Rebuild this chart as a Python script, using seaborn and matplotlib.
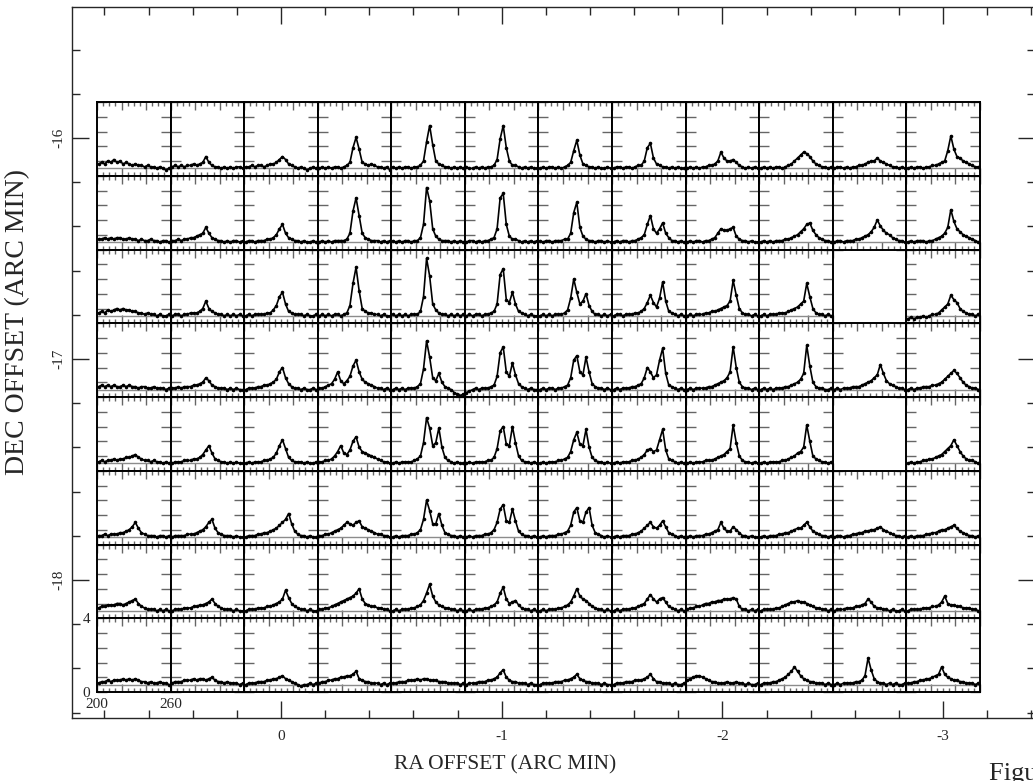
import numpy as np
import seaborn as sns
import matplotlib
matplotlib.use("Agg")
import matplotlib.pyplot as plt
from matplotlib.ticker import MultipleLocator, FixedLocator

# channel velocities (km/s) shared by every spectrum
vel = [201.25, 203.75, 206.25, 208.75, 211.25, 213.75, 216.25, 218.75,
       221.25, 223.75, 226.25, 228.75, 231.25, 233.75, 236.25, 238.75,
       241.25, 243.75, 246.25, 248.75, 251.25, 253.75, 256.25, 258.75]

# spectra in tenths of a unit above the baseline, west to east along a row
# None = no spectrum at that position
row0 = [
    "3 4 3 5 4 6 4 5 3 4 3 2 3 2 2 1 2 1 1 0 1 0 -1 0",
    "1 2 1 2 1 2 2 3 2 3 4 8 4 2 1 1 0 1 0 1 0 1 1 0",
    "1 1 2 1 2 2 1 2 3 3 4 6 8 6 3 2 1 0 1 0 -1 0 1 0",
    "0 1 0 1 0 1 1 0 1 2 4 14 21 13 4 3 2 3 2 1 1 0 1 -1",
    "1 0 1 0 1 1 0 1 1 2 5 18 29 16 5 3 2 1 1 0 1 0 1 0",
    "1 0 0 1 0 1 0 1 1 2 6 20 29 14 5 2 2 1 0 1 0 1 0 0",
    "0 1 0 1 1 0 1 0 1 2 4 12 19 9 3 2 1 1 0 1 0 0 1 0",
    "0 1 1 0 1 1 0 1 2 2 5 14 17 7 3 2 1 1 0 1 0 1 0 0",
    "0 1 0 1 0 1 1 2 2 3 5 11 7 5 5 6 4 2 1 0 1 0 1 0",
    "0 1 0 1 0 1 1 0 1 2 3 5 7 9 11 10 8 5 3 2 1 1 0 1",
    "0 1 1 0 1 0 1 1 2 2 3 4 5 5 7 5 4 3 2 1 1 0 1 0",
    "0 1 0 1 1 0 1 1 2 2 3 4 5 12 22 13 8 7 5 4 3 2 1 1",
]
row1 = [
    "2 2 3 2 3 2 3 3 2 2 3 2 2 1 2 1 1 2 1 1 0 1 1 0",
    "1 1 2 1 2 2 3 3 4 5 6 10 6 3 2 1 1 0 1 0 1 1 0 1",
    "0 1 1 0 1 1 1 2 2 3 5 9 12 6 3 2 1 1 0 1 0 0 1 0",
    "0 1 0 1 0 1 1 1 1 2 6 21 30 18 6 3 2 1 1 1 0 1 0 1",
    "1 0 1 0 1 1 0 1 1 3 12 37 28 9 4 2 1 1 1 0 1 0 1 0",
    "0 1 1 0 1 0 1 1 2 3 9 30 33 12 4 2 2 1 0 1 0 1 0 1",
    "1 0 1 1 0 1 1 1 2 2 6 20 27 10 4 2 1 1 0 1 1 0 1 0",
    "0 1 0 1 1 0 1 1 2 3 5 12 18 9 6 9 13 6 3 1 1 0 1 0",
    "0 1 0 1 1 0 1 1 2 3 6 9 8 8 9 10 4 2 1 1 0 1 0 0",
    "0 1 0 1 0 1 1 1 2 2 3 4 5 7 9 12 13 8 5 3 2 1 1 0",
    "0 1 1 0 1 1 1 2 2 3 4 5 7 10 15 11 8 6 5 3 2 1 1 0",
    "0 1 0 1 1 1 0 1 1 2 3 4 6 10 22 14 9 7 5 4 3 2 1 0",
]
row2 = [
    "2 3 2 4 3 4 5 4 5 4 4 3 3 2 2 1 2 1 1 0 1 0 0 1",
    "0 1 1 0 1 1 2 2 2 3 5 10 5 3 2 1 1 0 1 0 1 0 1 0",
    "0 1 0 1 1 1 1 2 2 4 7 13 16 8 3 2 1 1 1 0 1 0 0 1",
    "0 1 0 1 0 1 1 0 1 2 7 22 33 17 5 3 2 2 1 1 0 1 0 0",
    "1 0 1 0 1 0 1 1 1 3 13 39 27 8 4 2 1 1 0 1 0 1 0 1",
    "0 1 0 1 1 0 1 1 2 3 8 28 32 11 9 16 8 3 2 1 0 1 0 0",
    "0 1 0 1 0 1 1 1 2 4 12 25 16 8 10 15 7 3 1 1 0 1 0 1",
    "0 1 1 0 1 1 1 2 2 3 5 9 14 9 6 12 23 10 3 2 1 0 1 0",
    "0 1 0 1 1 1 2 2 3 3 4 5 6 7 10 24 14 5 2 1 1 0 1 0",
    "0 1 0 1 1 1 2 2 2 3 4 5 6 8 10 22 13 5 2 1 1 0 1 0",
    None,
    "-2 -1 -2 -1 -1 0 -1 0 1 1 2 4 6 8 14 11 9 5 3 2 1 1 0 1",
]
row3 = [
    "2 3 2 3 2 3 2 2 3 2 3 2 2 1 2 2 1 1 2 1 1 1 0 1",
    "1 1 2 1 2 2 2 3 3 4 5 8 6 3 2 1 1 1 0 1 0 1 0 0",
    "0 1 1 1 2 2 3 3 4 5 7 12 15 8 4 2 1 1 0 1 0 0 1 0",
    "1 1 2 3 4 7 12 6 4 6 9 16 20 12 7 5 4 3 2 1 1 0 1 0",
    "0 1 0 1 0 1 1 1 2 4 14 33 22 8 6 11 5 2 1 0 -2 -3 -4 -3",
    "-2 -1 0 1 0 1 1 1 2 3 9 25 29 12 9 18 10 4 2 1 0 1 0 0",
    "0 1 0 1 1 0 1 1 2 3 8 20 23 12 10 22 12 4 2 1 1 0 1 0",
    "0 1 0 1 1 1 2 2 3 4 8 15 12 8 10 20 28 11 3 2 1 0 1 0",
    "0 1 0 1 1 1 1 2 2 3 4 5 6 8 12 29 15 5 2 1 1 0 1 0",
    "0 1 0 1 0 1 1 1 2 2 3 4 5 7 11 30 16 5 2 1 1 0 0 1",
    "0 1 0 1 1 1 2 2 2 3 4 5 6 8 10 17 11 6 4 3 2 1 1 0",
    "0 1 0 1 1 2 2 2 3 3 4 5 7 9 11 13 11 8 5 3 2 1 1 0",
]
row4 = [
    "1 2 1 2 2 3 2 3 3 4 4 5 6 4 3 2 2 1 2 1 1 0 1 0",
    "0 1 1 1 2 2 2 3 3 4 6 9 12 7 3 2 1 1 0 1 0 1 0 0",
    "0 1 0 1 1 1 2 2 3 4 7 12 16 10 4 2 1 1 1 0 1 0 0 1",
    "1 1 2 2 3 5 8 12 7 6 9 15 18 11 8 7 6 5 4 3 2 1 1 0",
    "0 1 0 1 1 1 1 2 3 5 14 31 24 12 14 24 11 4 2 1 0 1 0 0",
    "0 1 0 1 1 1 1 2 2 4 10 22 25 13 12 25 14 5 2 1 1 0 1 0",
    "0 1 0 1 1 1 2 2 3 4 8 16 21 13 12 23 11 4 2 1 1 0 1 0",
    "0 1 0 1 1 1 2 2 3 4 6 9 10 8 9 16 23 9 3 2 1 0 1 0",
    "0 1 0 1 1 1 2 2 2 3 4 5 6 8 10 26 14 5 2 1 1 0 1 0",
    "0 1 0 1 1 1 1 2 2 3 4 5 7 8 11 26 15 5 3 2 1 1 0 1",
    None,
    "0 1 0 1 1 2 2 3 3 4 5 6 8 10 12 16 12 8 5 3 2 2 1 0",
]
row5 = [
    "1 1 2 1 2 2 2 3 3 4 5 7 10 6 3 2 1 1 1 0 1 1 0 1",
    "0 1 1 1 1 2 2 2 3 4 5 7 10 12 6 3 2 1 1 1 0 1 0 0",
    "0 1 1 1 2 2 3 3 4 5 6 8 10 12 16 9 4 2 1 1 0 1 0 0",
    "1 1 2 2 3 4 5 6 8 10 9 8 10 11 7 6 5 4 3 2 2 1 1 0",
    "0 1 0 1 1 1 2 2 3 5 12 25 18 9 9 16 8 3 2 1 1 0 1 0",
    "0 1 0 1 1 1 2 2 3 5 10 19 22 11 10 19 11 4 2 1 1 0 1 0",
    "0 1 0 1 1 1 2 2 3 4 8 17 20 11 10 17 20 8 3 2 1 0 1 0",
    "0 1 0 1 1 1 2 2 3 4 6 8 10 7 6 8 11 7 3 2 1 0 1 0",
    "0 1 0 1 1 1 2 2 3 4 5 10 6 4 4 7 5 3 1 1 0 1 0 0",
    "0 1 0 1 1 1 2 2 3 3 4 5 6 6 8 10 7 4 3 2 1 1 0 1",
    "0 1 1 0 1 1 2 2 3 3 4 4 5 5 6 7 5 4 3 2 1 1 0 1",
    "0 1 0 1 1 1 2 2 3 3 4 5 5 6 7 8 6 4 3 2 1 1 0 1",
]
row6 = [
    "2 3 3 4 4 4 5 5 4 5 6 7 8 5 3 2 1 1 1 0 1 0 1 0",
    "0 1 1 1 2 2 2 3 3 4 4 5 6 8 5 3 2 1 1 1 0 1 0 0",
    "0 1 1 1 2 2 2 3 3 4 5 6 8 14 9 5 3 2 1 1 0 1 0 0",
    "1 1 2 2 3 4 5 6 7 8 9 10 12 15 8 5 4 3 3 2 2 1 1 0",
    "0 1 0 1 1 1 2 2 3 4 7 12 18 10 6 4 3 2 2 1 1 0 1 0",
    "0 1 0 1 1 1 2 2 3 4 6 12 16 8 5 6 7 4 2 1 1 0 1 0",
    "0 1 0 1 1 1 2 2 3 4 6 10 15 10 8 7 5 3 2 1 1 0 1 0",
    "0 1 0 1 1 1 2 2 3 4 5 8 11 8 6 8 9 6 3 2 1 0 1 0",
    "1 2 2 3 3 4 5 5 6 6 7 7 8 8 8 9 8 3 1 1 0 1 0 1",
    "0 1 1 1 1 2 2 3 4 5 6 6 7 6 6 5 4 3 2 2 1 1 0 1",
    "0 1 1 1 2 2 2 3 3 4 5 8 6 3 2 2 1 1 0 1 0 0 1 0",
    "0 1 1 1 1 2 2 2 3 3 4 6 10 5 4 4 3 3 2 2 2 1 1 0",
]
row7 = [
    "1 2 2 3 2 3 3 3 4 3 4 3 4 3 2 2 1 2 1 1 2 1 1 0",
    "1 2 2 2 3 3 3 4 3 4 4 3 4 5 3 2 2 1 2 1 1 1 0 1",
    "0 1 1 1 2 2 2 3 3 4 4 5 6 4 3 2 1 0 -1 0 0 1 0 1",
    "1 2 2 3 3 4 4 5 5 6 6 7 9 4 3 2 2 1 1 1 0 1 0 1",
    "1 1 2 2 2 3 3 3 4 3 4 4 3 3 3 2 2 2 1 1 1 1 0 1",
    "0 1 1 1 2 2 2 3 3 4 5 8 10 5 3 2 2 1 1 1 0 1 0 0",
    "0 1 1 1 1 2 2 2 3 3 4 5 7 4 3 2 2 1 1 1 0 1 0 0",
    "0 1 1 1 2 2 2 3 3 3 4 5 7 4 2 2 1 1 1 0 1 0 0 1",
    "3 4 5 6 6 5 4 3 2 2 1 1 1 2 1 1 2 1 1 0 1 0 0 1",
    "0 1 1 1 2 2 3 4 5 7 9 12 9 6 4 3 2 2 1 1 1 0 1 0",
    "0 1 0 1 1 1 1 2 2 3 6 18 10 4 2 1 1 0 1 0 1 0 0 1",
    "1 1 2 2 3 3 4 4 5 6 7 12 7 5 4 3 3 2 2 1 1 1 0 1",
]
rows = [row0, row1, row2, row3, row4, row5, row6, row7]

ra_ticks = [0, -1, -2, -3]
dec_ticks = [-16, -17, -18]

W, H = 1033, 781


def parse(s):
    return np.array([float(t) for t in s.split()]) / 10.0


def style_panel(ax, label=False):
    ax.set_xlim(200, 260)
    ax.set_ylim(-0.5, 4.5)
    ax.axhline(0, color="0.55", lw=1.0, zorder=1)
    ax.xaxis.set_major_locator(FixedLocator([200, 220, 240, 260]))
    ax.xaxis.set_minor_locator(MultipleLocator(5))
    ax.yaxis.set_major_locator(FixedLocator([-0.5, 0.5, 1.5, 2.5, 3.5, 4.5]))
    ax.tick_params(which="both", direction="in", top=True, right=True,
                   color="0.4", width=1.0)
    ax.tick_params(axis="x", which="major", length=6)
    ax.tick_params(axis="x", which="minor", length=3)
    ax.tick_params(axis="y", which="major", length=7.5)
    for sp in ax.spines.values():
        sp.set_color("black")
        sp.set_linewidth(1.4)
    ax.set_xlabel("")
    ax.set_ylabel("")
    if label:
        ax.set_xticklabels(["200", "", "", "260"])
        ax.set_yticklabels(["0", "", "", "", "", "4"])
        ax.tick_params(labelsize=11)
        ax.tick_params(axis="x", pad=4)
        ax.tick_params(axis="y", pad=5)
    else:
        ax.set_xticklabels([])
        ax.set_yticklabels([])


def main():
    sns.set_style("ticks")
    plt.rcParams["font.family"] = ["Liberation Serif", "DejaVu Serif"]
    plt.rcParams["axes.unicode_minus"] = False

    fig = plt.figure(figsize=(W / 100, H / 100), dpi=100)

    # outer map frame (RA / DEC offsets)
    ax0 = fig.add_axes([72 / W, 1 - 718 / H, (1035 - 72) / W, (718 - 7) / H])
    ax0.set_xlim(0.947, -3.416)
    ax0.set_ylim(-18.624, -15.407)
    ax0.set_xticks(ra_ticks)
    ax0.set_yticks(dec_ticks)
    ax0.xaxis.set_minor_locator(MultipleLocator(0.2))
    ax0.yaxis.set_minor_locator(MultipleLocator(0.2))
    ax0.tick_params(which="major", direction="in", length=12, width=1,
                    top=True, right=True, labelsize=11)
    ax0.tick_params(which="minor", direction="in", length=6, width=1,
                    top=True, right=True)
    ax0.tick_params(axis="x", pad=9)
    ax0.tick_params(axis="y", pad=5, labelrotation=90)
    for lab in ax0.get_yticklabels():
        lab.set_va("center")
    for sp in ax0.spines.values():
        sp.set_linewidth(1.0)

    fig.text(18 / W, 1 - 322 / H, "DEC OFFSET (ARC MIN)", rotation=90,
             ha="center", va="center", fontsize=20)
    fig.text(505 / W, 1 - 765 / H, "RA OFFSET (ARC MIN)",
             ha="center", va="center", fontsize=15.5)
    fig.text(989 / W, 1 - 780 / H, "Figure 1", ha="left", va="baseline",
             fontsize=19)

    # grid of spectra
    left0, top0 = 97.0, 102.0
    pw, ph = 73.58, 73.75
    for r, row in enumerate(rows):
        for c, spec in enumerate(row):
            if spec is None:
                continue
            x = left0 + c * pw
            y = top0 + (r + 1) * ph
            ax = fig.add_axes([x / W, 1 - y / H, pw / W, ph / H])
            sns.lineplot(x=vel, y=parse(spec), ax=ax, color="black",
                         lw=1.2, marker="o", markersize=2.6,
                         markeredgewidth=0, zorder=3)
            style_panel(ax, label=(r == len(rows) - 1 and c == 0))

    fig.savefig("out.png", dpi=100)


if __name__ == "__main__":
    main()
